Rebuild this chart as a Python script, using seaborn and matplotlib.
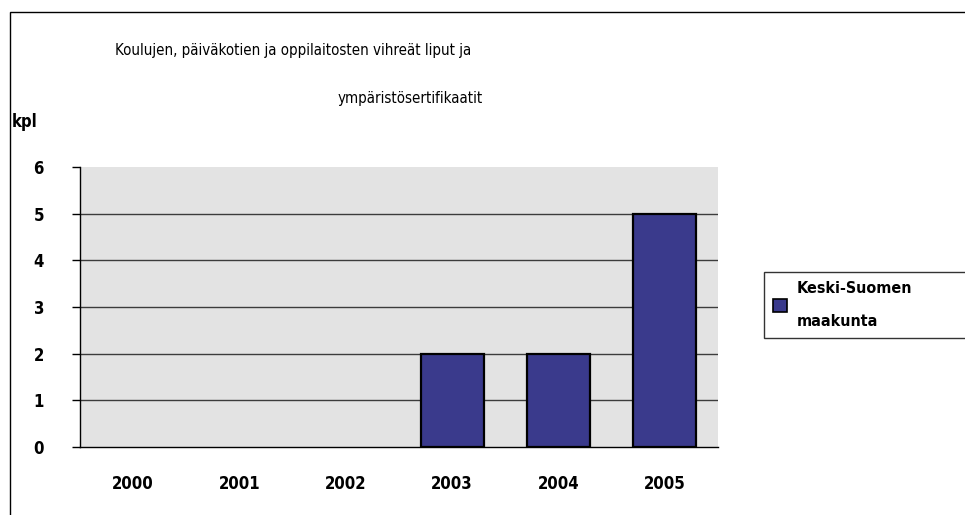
import matplotlib
matplotlib.use("Agg")
import matplotlib.pyplot as plt
import seaborn as sns
import pandas as pd
from matplotlib.patches import Rectangle, Patch

years = ["2000", "2001", "2002", "2003", "2004", "2005"]
values = [0, 0, 0, 2, 2, 5]
series_name = "Keski-Suomen\nmaakunta"
title_line1 = "Koulujen, päiväkotien ja oppilaitosten vihreät liput ja"
title_line2 = "ympäristösertifikaatit"
y_label = "kpl"
y_ticks = [0, 1, 2, 3, 4, 5, 6]

sns.set_style("white")
plt.rcParams["font.family"] = ["DejaVu Sans"]
plt.rcParams["font.stretch"] = "condensed"
plt.rcParams["text.color"] = "black"
plt.rcParams["xtick.color"] = "black"
plt.rcParams["ytick.color"] = "black"

df = pd.DataFrame({"year": years, "value": values})

fig = plt.figure(figsize=(9.65, 5.15), dpi=100)
ax = fig.add_axes([80/965, 1-447/515, (718-80)/965, (447-167)/515])
bar_color = "#3A3A8C"
sns.barplot(data=df, x="year", y="value", color=bar_color, width=0.59,
            edgecolor="black", linewidth=1.6, saturation=1, ax=ax)
for p in ax.patches:
    if p.get_height() == 0:
        p.set_visible(False)
ax.set_facecolor("#E3E3E3")
ax.set_ylim(0, 6)
ax.set_xlim(-0.5, 5.5)
ax.set_yticks(y_ticks)
ax.set_yticklabels([str(t) for t in y_ticks], fontsize=12, fontweight="bold")
ax.set_xticks(range(len(years)))
ax.set_xticklabels(years, fontsize=12, fontweight="bold")
ax.set_xticks([i - 0.5 for i in range(len(years) + 1)], minor=True)
ax.tick_params(axis="x", which="major", length=0, pad=20)
ax.tick_params(axis="x", which="minor", length=7, width=1, color="black", direction="out")
ax.tick_params(axis="y", which="major", length=6, width=1, color="black", direction="out", pad=20, left=True)
ax.set_xlabel("")
ax.set_ylabel("")
for y in y_ticks[1:-1]:
    ax.axhline(y, color="#3c3c3c", linewidth=1.0, zorder=0.5)
for s in ["top", "right"]:
    ax.spines[s].set_visible(False)
for s in ["left", "bottom"]:
    ax.spines[s].set_visible(True)
    ax.spines[s].set_color("black")
    ax.spines[s].set_linewidth(1.0)

fig.text(293/965, 1-50/515, title_line1, ha="center", va="center", fontsize=10.8)
fig.text(410/965, 1-98/515, title_line2, ha="center", va="center", fontsize=10.8)
fig.text(12/965, 1-122/515, y_label, ha="left", va="center", fontsize=12, fontweight="bold")

# outer chart border
fig.patches.append(Rectangle((10/965, -0.05), 1.1, 1-12/515+0.05, transform=fig.transFigure,
                             fill=False, edgecolor="black", linewidth=1.0))
# legend
handle = Patch(facecolor=bar_color, edgecolor="black", linewidth=1.2)
leg = fig.legend([handle], [series_name], loc="upper left", mode="expand",
                 bbox_to_anchor=(764/965, 1-341/515, 0.3, 69/515), frameon=True, fancybox=False,
                 fontsize=11.5, handlelength=0.9, handleheight=0.9, borderpad=0.55,
                 labelspacing=0.3, handletextpad=0.6, borderaxespad=0)
leg.get_frame().set_edgecolor("black")
leg.get_frame().set_linewidth(1.0)
for t in leg.get_texts():
    t.set_linespacing(2.5)
    t.set_fontweight("bold")

fig.savefig("out.png", dpi=100)
